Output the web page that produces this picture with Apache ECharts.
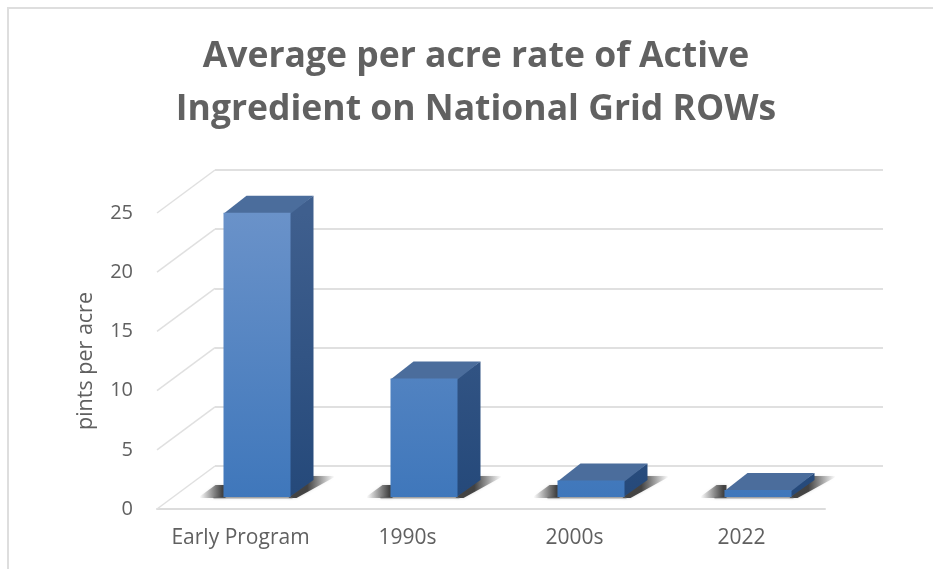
<!DOCTYPE html>
<html><head><meta charset="utf-8">
<style>html,body{margin:0;padding:0;background:#fff}#c{width:933px;height:569px}</style>
<script src="https://cdn.jsdelivr.net/npm/echarts@6/dist/echarts.min.js"></script>
</head><body><div id="c"></div>
<script>
const categories = ['Early Program', '1990s', '2000s', '2022'];
const values = [24, 10, 1.4, 0.6];
const yTicks = [0, 5, 10, 15, 20, 25];
const titleText = 'Average per acre rate of Active\nIngredient on National Grid ROWs';
const yName = 'pints per acre';

const WALL = [58, 43];      // perspective offset front plane -> back wall
const BAR_OFF = [16.5, 12]; // bar base offset behind the front edge
const DEPTH = [23, 17];     // bar depth
const BAR_W = 67;
const grad = (x0,y0,x1,y1,a,b) => ({type:'linear',x:x0,y:y0,x2:x1,y2:y1,global:true,colorStops:[{offset:0,color:a},{offset:1,color:b}]});
const fade = (x0,y0,x1,y1,a,b,mid) => ({type:'linear',x:x0,y:y0,x2:x1,y2:y1,global:true,colorStops:[{offset:0,color:a},{offset:mid,color:a},{offset:1,color:b}]});

const chart = echarts.init(document.getElementById('c'), null, {renderer:'canvas'});
chart.setOption({
  animation:false,
  backgroundColor:'#fff',
  title:{text:titleText,left:471,top:25,textAlign:'center',
    textStyle:{fontFamily:'Open Sans',fontWeight:'bold',fontSize:35.5,lineHeight:53,color:'#616161'}},
  graphic:[
    {type:'rect',shape:{x:7,y:7,width:2,height:562},style:{fill:'#dedede'},silent:true},
    {type:'rect',shape:{x:7,y:7,width:926,height:2},style:{fill:'#dedede'},silent:true}
  ],
  grid:[
    {left:157,width:668,top:213,height:296},
    {left:215,width:668,top:170,height:296}
  ],
  xAxis:[
    {type:'category',gridIndex:0,data:categories,axisTick:{show:false},
     axisLine:{lineStyle:{color:'#dcdcdc',width:2}},
     axisLabel:{interval:0,hideOverlap:false,margin:19,fontFamily:'Open Sans',fontSize:21,color:'#606060'}},
    {type:'category',gridIndex:1,data:categories,show:false}
  ],
  yAxis:[
    {type:'value',gridIndex:0,min:0,max:25,interval:5,name:yName,nameLocation:'middle',nameGap:60,
     nameTextStyle:{fontFamily:'Open Sans',fontSize:21.5,color:'#606060'},
     axisLine:{show:false},axisTick:{show:false},splitLine:{show:false},
     axisLabel:{margin:24,fontFamily:'Open Sans',fontSize:20,color:'#606060',padding:[0,0,4,0]}},
    {type:'value',gridIndex:1,min:0,max:25,interval:5,axisLine:{show:false},axisTick:{show:false},axisLabel:{show:false},
     splitLine:{lineStyle:{color:'#e0e0e0',width:2}}}
  ],
  series:[
    {type:'custom',name:'wall',xAxisIndex:0,yAxisIndex:0,z:1,silent:true,
     data:yTicks.map(t=>[0,t]),
     encode:{x:0,y:1},
     renderItem(p,api){
       const c=api.coord([0,api.value(1)]);
       const x=c[0]-api.size([1,0])[0]/2;
       return {type:'line',shape:{x1:x,y1:c[1],x2:x+WALL[0],y2:c[1]-WALL[1]},style:{stroke:'#e0e0e0',lineWidth:1.5}};
     }},
    {type:'custom',name:'shadow',xAxisIndex:0,yAxisIndex:0,z:2,silent:true,
     data:values.map((v,i)=>[i,v]),
     encode:{x:0,y:1},
     renderItem(p,api){
       const i=api.value(0);
       const c=api.coord([i,0]);
       const x0=c[0]+BAR_OFF[0]-BAR_W/2, x1=x0+BAR_W, y0=c[1]-BAR_OFF[1];
       const soft='rgba(70,70,70,0)', dark='rgba(40,40,40,.85)';
       return {type:'group',children:[
         {type:'polygon',shape:{points:[[x0-26,y0+1],[x0+2,y0+1],[x0+2,y0-12],[x0-8,y0-12]]},
          style:{fill:fade(x0,0,x0-24,0,dark,soft,0.05),shadowBlur:3,shadowColor:'rgba(0,0,0,.18)'}},
         {type:'polygon',shape:{points:[[x1-2,y0+1],[x1+6,y0+1],[x1+46,y0-21],[x1+20,y0-21]]},
          style:{fill:fade(x1+10,0,x1+44,0,dark,soft,0.2),shadowBlur:3,shadowColor:'rgba(0,0,0,.18)'}},
         {type:'rect',shape:{x:x0-10,y:y0,width:BAR_W+12,height:1.5},style:{fill:'rgba(110,110,110,.55)',shadowBlur:2,shadowColor:'rgba(0,0,0,.3)'}}
       ]};
     }},
    {type:'custom',name:'pints per acre',xAxisIndex:0,yAxisIndex:0,z:3,
     data:values.map((v,i)=>[i,v]),
     encode:{x:0,y:1},
     renderItem(p,api){
       const i=api.value(0), v=api.value(1);
       const b=api.coord([i,0]), t=api.coord([i,v]);
       const x0=b[0]+BAR_OFF[0]-BAR_W/2, x1=x0+BAR_W, y0=b[1]-BAR_OFF[1], y1=t[1]-BAR_OFF[1];
       const gTop=213, gBot=497;
       return {type:'group',children:[
         {type:'polygon',shape:{points:[[x1-1,y0],[x1-1,y1],[x1+DEPTH[0],y1-DEPTH[1]],[x1+DEPTH[0],y0-DEPTH[1]]]},
          style:{fill:grad(0,gTop,0,gBot,'#3f5f8e','#25497a')}},
         {type:'polygon',shape:{points:[[x0,y1+1],[x1,y1+1],[x1+DEPTH[0],y1-DEPTH[1]],[x0+DEPTH[0],y1-DEPTH[1]]]},
          style:{fill:'#4b6d9c'}},
         {type:'rect',shape:{x:x0,y:y1,width:BAR_W,height:y0-y1},
          style:{fill:grad(0,gTop,0,gBot,'#6a92c9','#3f77bb')}}
       ]};
     }}
  ]
});
</script></body></html>
